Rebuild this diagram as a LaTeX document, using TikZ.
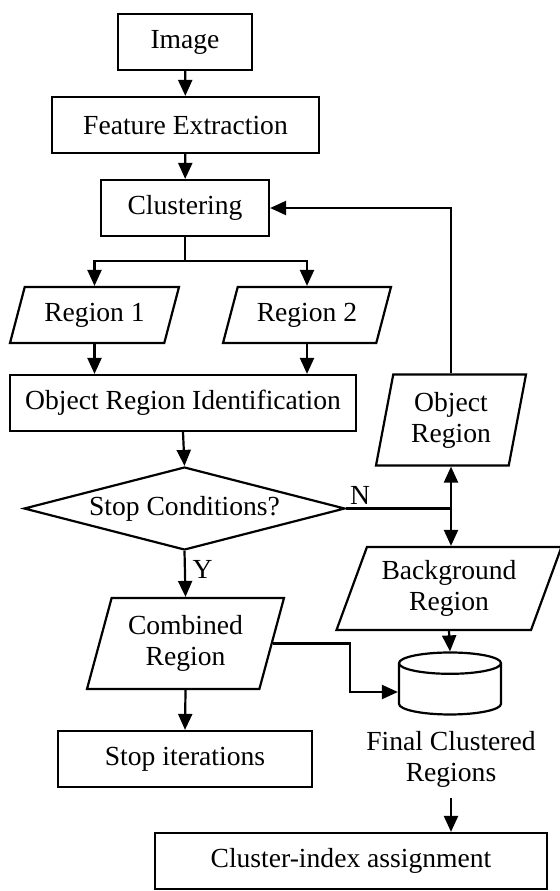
\documentclass[tikz,border=0pt]{standalone}
\usepackage{fontspec}
\setmainfont{Liberation Serif}
\usetikzlibrary{shapes.geometric,arrows.meta}

\tikzset{every node/.style={font=\fontsize{13.8}{15.5}\selectfont},
         block/.style={draw,rectangle,minimum height=28pt,inner sep=0pt},
         io/.style n args={4}{draw,trapezium,trapezium stretches body,inner sep=0pt,align=center,
                  trapezium left angle=#1,trapezium right angle=#2,minimum width=#3,minimum height=#4},
         test/.style={draw,diamond,aspect=3.87,inner sep=0pt,minimum width=160.5pt,minimum height=41.5pt},
         store/.style={draw,cylinder,shape border rotate=90,aspect=1.6,minimum width=51pt,minimum height=31pt},
         arr/.style={-{Triangle[length=8pt,width=7pt]}}}

\begin{document}
\begin{tikzpicture}[x=0.5pt,y=-0.5pt,line width=1.1pt]
\useasboundingbox (0,0) rectangle (560,891);
% left column
\node[block,minimum width=67pt] (img) at (185,42) {Image};
\node[block,minimum width=133.5pt] (feat) at (185.5,125) {Feature Extraction};
\node[block,minimum width=84pt] (clus) at (185,208) {Clustering};
\node[io={58.7}{121.3}{84.5pt}{28pt}] (reg1) at (94.5,315) {Region 1};
\node[io={58.7}{121.3}{84pt}{28pt}] (reg2) at (307,315) {Region 2};
\node[block,minimum width=173pt] (ori) at (183,403) {Object Region Identification};
\node[test] (stop) at (184.5,508.5) {Stop Conditions?};
\node[io={66.3}{113.7}{98.5pt}{45.5pt}] (comb) at (185.5,643.5) {Combined\\Region};
\node[block,minimum width=127pt] (halt) at (185,759) {Stop iterations};
% right column
\node[io={72.9}{107.1}{75pt}{45.5pt}] (obj) at (451,420) {Object\\Region};
\node[io={61.5}{118.5}{112.5pt}{41.5pt}] (bg) at (449,588.5) {Background\\Region};
\node[store] (db) at (450,692) {};
\node[align=center,inner sep=5pt] (dbname) at (451,759) {Final Clustered\\Regions};
\node[block,minimum width=196pt] (cidx) at (351,861) {Cluster-index assignment};

\coordinate (fork) at (185,261);
\coordinate (nsplit) at (stop.east -| obj.south);

\draw[arr] (img) -- (feat);
\draw[arr] (feat) -- (clus);
\draw (clus.south) -- (fork);
\draw[arr] (fork) -| (reg1.north);
\draw[arr] (fork) -| (reg2.north);
\draw[arr] (reg1.south) -- (reg1.south |- ori.north);
\draw[arr] (reg2.south) -- (reg2.south |- ori.north);
\draw[arr] (ori.south) -- (stop.north);
\draw[arr] (stop.south) -- node[right,pos=0.4]{Y} (comb.north);
\draw (stop.east) -- node[above right,pos=0,inner sep=1.5pt]{N} (nsplit);
\draw[arr] (nsplit) -- (obj.south);
\draw[arr] (nsplit) -- (nsplit |- bg.north);
\draw[arr] (obj.north) |- (clus.east);
\draw[arr] (comb.south) -- (halt.north);
\draw[arr] (comb.east) -- ++(77,0) |- (db.west);
\draw[arr] (bg.south) -- (db.north);
\draw[arr] (dbname.south) -- (dbname.south |- cidx.north);
\end{tikzpicture}
\end{document}
